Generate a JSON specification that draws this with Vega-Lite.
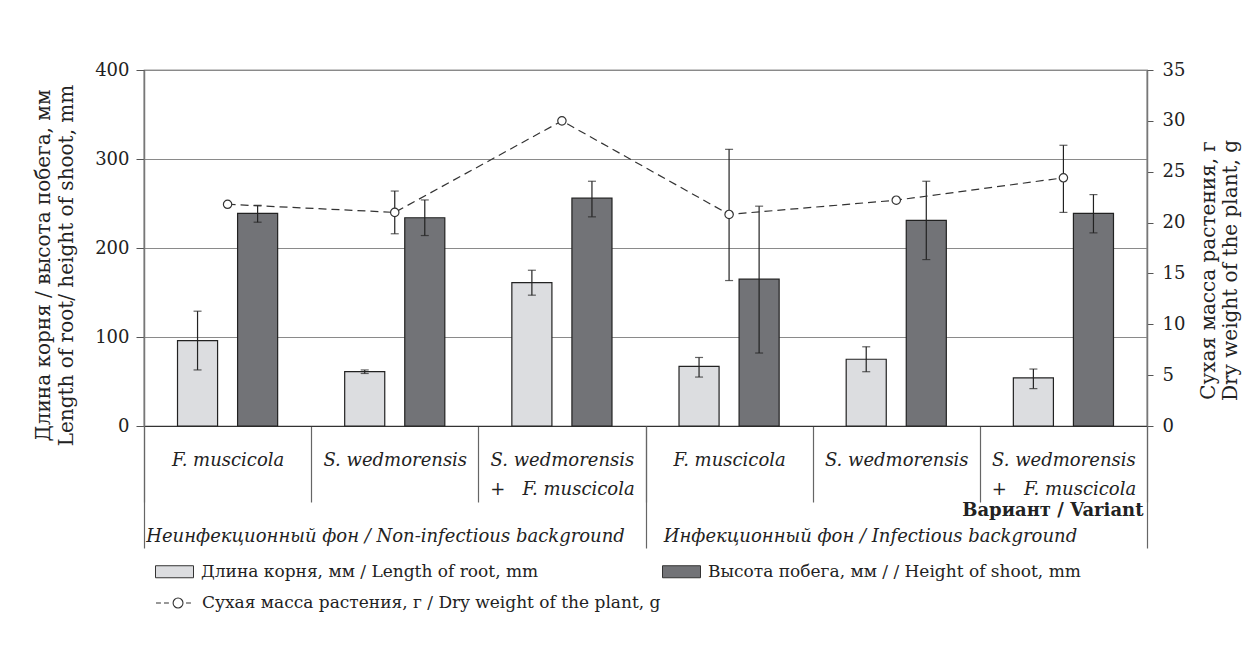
{
  "$schema": "https://vega.github.io/schema/vega-lite/v6.json",
  "width": 1003,
  "height": 356,
  "autosize": {"type": "none"},
  "padding": {"left": 144, "top": 70, "right": 101, "bottom": 221},
  "background": "white",
  "config": {
    "view": {"stroke": "#333", "strokeWidth": 1.2},
    "font": "DejaVu Serif",
    "axis": {"labelFont": "DejaVu Serif", "titleFont": "DejaVu Serif", "labelColor": "#222", "titleColor": "#222", "labelFontSize": 18, "titleFontSize": 20, "titleFontWeight": "normal"},
    "legend": {"labelFont": "DejaVu Serif", "labelFontSize": 17, "labelColor": "#222"}
  },
  "datasets": {
    "bars": [
      {"background": "Неинфекционный фон / Non-infectious background", "variant": "Non-infectious: F. muscicola", "series": "Длина корня, мм / Length of root, mm", "value": 96, "lo": 63, "hi": 129},
      {"background": "Неинфекционный фон / Non-infectious background", "variant": "Non-infectious: F. muscicola", "series": "Высота побега, мм / / Height of shoot, mm", "value": 239, "lo": 229, "hi": 248},
      {"background": "Неинфекционный фон / Non-infectious background", "variant": "Non-infectious: S. wedmorensis", "series": "Длина корня, мм / Length of root, mm", "value": 61, "lo": 59, "hi": 63},
      {"background": "Неинфекционный фон / Non-infectious background", "variant": "Non-infectious: S. wedmorensis", "series": "Высота побега, мм / / Height of shoot, mm", "value": 234, "lo": 214, "hi": 254},
      {"background": "Неинфекционный фон / Non-infectious background", "variant": "Non-infectious: S. wedmorensis + F. muscicola", "series": "Длина корня, мм / Length of root, mm", "value": 161, "lo": 147, "hi": 175},
      {"background": "Неинфекционный фон / Non-infectious background", "variant": "Non-infectious: S. wedmorensis + F. muscicola", "series": "Высота побега, мм / / Height of shoot, mm", "value": 256, "lo": 235, "hi": 275},
      {"background": "Инфекционный фон / Infectious background", "variant": "Infectious: F. muscicola", "series": "Длина корня, мм / Length of root, mm", "value": 67, "lo": 55, "hi": 77},
      {"background": "Инфекционный фон / Infectious background", "variant": "Infectious: F. muscicola", "series": "Высота побега, мм / / Height of shoot, mm", "value": 165, "lo": 82, "hi": 247},
      {"background": "Инфекционный фон / Infectious background", "variant": "Infectious: S. wedmorensis", "series": "Длина корня, мм / Length of root, mm", "value": 75, "lo": 61, "hi": 89},
      {"background": "Инфекционный фон / Infectious background", "variant": "Infectious: S. wedmorensis", "series": "Высота побега, мм / / Height of shoot, mm", "value": 231, "lo": 187, "hi": 275},
      {"background": "Инфекционный фон / Infectious background", "variant": "Infectious: S. wedmorensis + F. muscicola", "series": "Длина корня, мм / Length of root, mm", "value": 54, "lo": 42, "hi": 64},
      {"background": "Инфекционный фон / Infectious background", "variant": "Infectious: S. wedmorensis + F. muscicola", "series": "Высота побега, мм / / Height of shoot, mm", "value": 239, "lo": 217, "hi": 260}
    ],
    "dry": [
      {"n": 1, "variant": "Non-infectious: F. muscicola", "series": "Сухая масса растения, г / Dry weight of the plant, g", "dry": 21.8},
      {"n": 2, "variant": "Non-infectious: S. wedmorensis", "series": "Сухая масса растения, г / Dry weight of the plant, g", "dry": 21.0, "lo": 18.9, "hi": 23.1},
      {"n": 3, "variant": "Non-infectious: S. wedmorensis + F. muscicola", "series": "Сухая масса растения, г / Dry weight of the plant, g", "dry": 30.0},
      {"n": 4, "variant": "Infectious: F. muscicola", "series": "Сухая масса растения, г / Dry weight of the plant, g", "dry": 20.8, "lo": 14.3, "hi": 27.2},
      {"n": 5, "variant": "Infectious: S. wedmorensis", "series": "Сухая масса растения, г / Dry weight of the plant, g", "dry": 22.2},
      {"n": 6, "variant": "Infectious: S. wedmorensis + F. muscicola", "series": "Сухая масса растения, г / Dry weight of the plant, g", "dry": 24.4, "lo": 21.0, "hi": 27.6}
    ]
  },
  "layer": [
    {
      "data": {"name": "bars"},
      "mark": {"type": "bar", "stroke": "#222", "strokeWidth": 1.2},
      "encoding": {
        "x": {
          "field": "variant", "type": "nominal",
          "scale": {"domain": ["Non-infectious: F. muscicola", "Non-infectious: S. wedmorensis", "Non-infectious: S. wedmorensis + F. muscicola", "Infectious: F. muscicola", "Infectious: S. wedmorensis", "Infectious: S. wedmorensis + F. muscicola"], "paddingInner": 0, "paddingOuter": 0},
          "axis": {
            "orient": "bottom", "labelAngle": 0, "tickBand": "extent", "tickSize": 76, "tickColor": "#666", "tickWidth": 1.2,
            "domainColor": "#333", "domainWidth": 1.2,
            "labelExpr": "!isString(datum.value) ? '' : (indexof(datum.value, '+') > 0 ? [split(split(datum.value, ': ')[1], ' + ')[0], '+\u00a0\u00a0\u00a0' + split(datum.value, ' + ')[1]] : split(datum.value, ': ')[1])",
            "labelFontStyle": "italic", "labelBaseline": "top", "labelPadding": -51, "labelLineHeight": 29, "labelLimit": 0,
            "title": "Вариант / Variant", "titleFontSize": 18, "titleFontWeight": "bold", "titleX": 999, "titleY": 84, "titleAlign": "right", "titleBaseline": "middle"
          }
        },
        "xOffset": {
          "field": "series", "type": "nominal",
          "scale": {"domain": ["Длина корня, мм / Length of root, mm", "Высота побега, мм / / Height of shoot, mm"], "paddingInner": 0.333, "paddingOuter": 0.558}
        },
        "y": {
          "field": "value", "type": "quantitative",
          "scale": {"domain": [0, 400], "nice": false},
          "axis": {
            "orient": "left", "values": [0, 100, 200, 300, 400], "grid": true, "gridColor": "#8a8a8a", "gridWidth": 1.2,
            "tickSize": 8, "tickColor": "#555", "domainColor": "#777", "domainWidth": 1.5, "labelPadding": 7,
            "title": ["Длина корня / высота побега, мм", "Length of root/ height of shoot, mm"],
            "titleAngle": 270, "titleX": -101, "titleY": 195, "titleAlign": "center", "titleBaseline": "middle", "titleLineHeight": 23
          }
        },
        "fill": {
          "field": "series", "type": "nominal",
          "scale": {"domain": ["Длина корня, мм / Length of root, mm", "Высота побега, мм / / Height of shoot, mm"], "range": ["#dcdde0", "#727377"]},
          "legend": {
            "title": null, "orient": "none", "legendX": 11, "legendY": 482, "direction": "horizontal", "columns": 2, "columnPadding": 121,
            "symbolType": "M-1,-0.316H1V0.316H-1Z", "symbolSize": 1444, "symbolStrokeColor": "#333", "symbolStrokeWidth": 1, "labelOffset": 7, "labelLimit": 0
          }
        }
      }
    },
    {
      "data": {"name": "bars"},
      "mark": {"type": "rule", "color": "#222", "strokeWidth": 1.2},
      "encoding": {
        "x": {"field": "variant", "type": "nominal", "axis": null, "scale": {"domain": ["Non-infectious: F. muscicola", "Non-infectious: S. wedmorensis", "Non-infectious: S. wedmorensis + F. muscicola", "Infectious: F. muscicola", "Infectious: S. wedmorensis", "Infectious: S. wedmorensis + F. muscicola"], "paddingInner": 0, "paddingOuter": 0}},
        "xOffset": {"field": "series", "type": "nominal", "scale": {"domain": ["Длина корня, мм / Length of root, mm", "Высота побега, мм / / Height of shoot, mm"], "paddingInner": 0.333, "paddingOuter": 0.558}},
        "y": {"field": "lo", "type": "quantitative", "axis": null, "scale": {"domain": [0, 400], "nice": false}},
        "y2": {"field": "hi"}
      }
    },
    {
      "data": {"name": "bars"},
      "mark": {"type": "tick", "color": "#222", "size": 8, "thickness": 1.2},
      "encoding": {
        "x": {"field": "variant", "type": "nominal", "axis": null, "scale": {"domain": ["Non-infectious: F. muscicola", "Non-infectious: S. wedmorensis", "Non-infectious: S. wedmorensis + F. muscicola", "Infectious: F. muscicola", "Infectious: S. wedmorensis", "Infectious: S. wedmorensis + F. muscicola"], "paddingInner": 0, "paddingOuter": 0}},
        "xOffset": {"field": "series", "type": "nominal", "scale": {"domain": ["Длина корня, мм / Length of root, mm", "Высота побега, мм / / Height of shoot, mm"], "paddingInner": 0.333, "paddingOuter": 0.558}},
        "y": {"field": "lo", "type": "quantitative", "axis": null, "scale": {"domain": [0, 400], "nice": false}}
      }
    },
    {
      "data": {"name": "bars"},
      "mark": {"type": "tick", "color": "#222", "size": 8, "thickness": 1.2},
      "encoding": {
        "x": {"field": "variant", "type": "nominal", "axis": null, "scale": {"domain": ["Non-infectious: F. muscicola", "Non-infectious: S. wedmorensis", "Non-infectious: S. wedmorensis + F. muscicola", "Infectious: F. muscicola", "Infectious: S. wedmorensis", "Infectious: S. wedmorensis + F. muscicola"], "paddingInner": 0, "paddingOuter": 0}},
        "xOffset": {"field": "series", "type": "nominal", "scale": {"domain": ["Длина корня, мм / Length of root, mm", "Высота побега, мм / / Height of shoot, mm"], "paddingInner": 0.333, "paddingOuter": 0.558}},
        "y": {"field": "hi", "type": "quantitative", "axis": null, "scale": {"domain": [0, 400], "nice": false}}
      }
    },
    {
      "data": {"name": "dry"},
      "mark": {"type": "rule", "color": "#222", "strokeWidth": 1.2},
      "encoding": {
        "x": {"field": "variant", "type": "nominal", "axis": null, "scale": {"domain": ["Non-infectious: F. muscicola", "Non-infectious: S. wedmorensis", "Non-infectious: S. wedmorensis + F. muscicola", "Infectious: F. muscicola", "Infectious: S. wedmorensis", "Infectious: S. wedmorensis + F. muscicola"], "paddingInner": 0, "paddingOuter": 0}},
        "y": {
          "field": "lo", "type": "quantitative",
          "scale": {"domain": [0, 35], "nice": false},
          "axis": {
            "orient": "right", "values": [0, 5, 10, 15, 20, 25, 30, 35], "grid": false, "tickSize": 6, "tickColor": "#555",
            "domainColor": "#777", "domainWidth": 1.5, "labelPadding": 9,
            "title": ["Сухая масса растения, г", "Dry weight of the plant, g"],
            "titleAngle": 270, "titleX": 61, "titleY": 200, "titleAlign": "center", "titleBaseline": "middle", "titleLineHeight": 22
          }
        },
        "y2": {"field": "hi"}
      }
    },
    {
      "data": {"name": "dry"},
      "mark": {"type": "tick", "color": "#222", "size": 8, "thickness": 1.2},
      "encoding": {
        "x": {"field": "variant", "type": "nominal", "axis": null, "scale": {"domain": ["Non-infectious: F. muscicola", "Non-infectious: S. wedmorensis", "Non-infectious: S. wedmorensis + F. muscicola", "Infectious: F. muscicola", "Infectious: S. wedmorensis", "Infectious: S. wedmorensis + F. muscicola"], "paddingInner": 0, "paddingOuter": 0}},
        "y": {"field": "lo", "type": "quantitative", "axis": null, "scale": {"domain": [0, 35], "nice": false}}
      }
    },
    {
      "data": {"name": "dry"},
      "mark": {"type": "tick", "color": "#222", "size": 8, "thickness": 1.2},
      "encoding": {
        "x": {"field": "variant", "type": "nominal", "axis": null, "scale": {"domain": ["Non-infectious: F. muscicola", "Non-infectious: S. wedmorensis", "Non-infectious: S. wedmorensis + F. muscicola", "Infectious: F. muscicola", "Infectious: S. wedmorensis", "Infectious: S. wedmorensis + F. muscicola"], "paddingInner": 0, "paddingOuter": 0}},
        "y": {"field": "hi", "type": "quantitative", "axis": null, "scale": {"domain": [0, 35], "nice": false}}
      }
    },
    {
      "data": {"name": "dry"},
      "mark": {"type": "line", "strokeDash": [8, 5], "strokeWidth": 1.2},
      "encoding": {
        "x": {"field": "variant", "type": "nominal", "axis": null, "scale": {"domain": ["Non-infectious: F. muscicola", "Non-infectious: S. wedmorensis", "Non-infectious: S. wedmorensis + F. muscicola", "Infectious: F. muscicola", "Infectious: S. wedmorensis", "Infectious: S. wedmorensis + F. muscicola"], "paddingInner": 0, "paddingOuter": 0}},
        "y": {"field": "dry", "type": "quantitative", "axis": null, "scale": {"domain": [0, 35], "nice": false}},
        "order": {"field": "n", "type": "quantitative"},
        "stroke": {
          "field": "series", "type": "nominal",
          "scale": {"range": ["#333"]},
          "legend": {
            "title": null, "orient": "none", "legendX": 11, "legendY": 513,
            "symbolType": "M-1,0H-0.74M-0.58,0H-0.32M0.58,0H0.84M0.42,0A0.26,0.26,0,1,1,-0.1,0A0.26,0.26,0,1,1,0.42,0Z",
            "symbolSize": 1444, "symbolFillColor": "white", "symbolStrokeWidth": 1.1, "labelOffset": 7, "labelLimit": 0
          }
        }
      }
    },
    {
      "data": {"name": "dry"},
      "mark": {"type": "point", "shape": "circle", "filled": true, "fill": "white", "size": 70, "strokeWidth": 1.2, "opacity": 1},
      "encoding": {
        "x": {"field": "variant", "type": "nominal", "axis": null, "scale": {"domain": ["Non-infectious: F. muscicola", "Non-infectious: S. wedmorensis", "Non-infectious: S. wedmorensis + F. muscicola", "Infectious: F. muscicola", "Infectious: S. wedmorensis", "Infectious: S. wedmorensis + F. muscicola"], "paddingInner": 0, "paddingOuter": 0}},
        "y": {"field": "dry", "type": "quantitative", "axis": null, "scale": {"domain": [0, 35], "nice": false}},
        "stroke": {"field": "series", "type": "nominal"}
      }
    },
    {
      "data": {"name": "bars"},
      "mark": {"type": "point", "opacity": 0},
      "encoding": {
        "x": {
          "field": "background", "type": "nominal",
          "scale": {"domain": ["Неинфекционный фон / Non-infectious background", "Инфекционный фон / Infectious background"], "paddingInner": 0, "paddingOuter": 0},
          "axis": {
            "orient": "bottom", "labelAngle": 0, "tickBand": "extent", "tickSize": 122, "tickColor": "#666", "tickWidth": 1.2,
            "domain": false, "labelFontStyle": "italic", "labelBaseline": "middle", "labelPadding": -12, "labelLimit": 0,
            "labelAlign": "left",
            "labelOffset": {"condition": {"test": "datum.value == 'Инфекционный фон / Infectious background'", "value": -233}, "value": -249},
            "title": null
          }
        }
      }
    }
  ],
  "resolve": {"scale": {"x": "independent", "y": "independent"}}
}
